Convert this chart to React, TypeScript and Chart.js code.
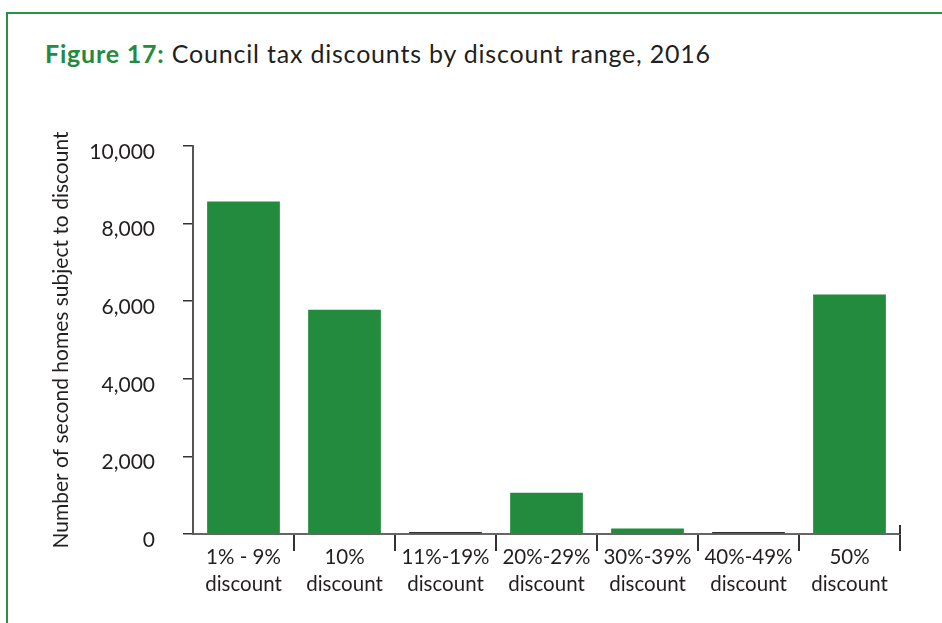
import React, { useEffect, useRef } from "react";
import { Chart, registerables } from "chart.js";

Chart.register(...registerables);

const categories: string[][] = [
  ["1% - 9%", "discount"],
  ["10%", "discount"],
  ["11%-19%", "discount"],
  ["20%-29%", "discount"],
  ["30%-39%", "discount"],
  ["40%-49%", "discount"],
  ["50%", "discount"],
];
const homes: number[] = [8570, 5780, 0, 1060, 140, 0, 6170];
const yMin = 0;
const yMax = 10000;
const yStep = 2000;

const GREEN = "#238b3e";
const TEXT = "#231f20";
const FONT = "Lato";

const rightTickPlugin = {
  id: "rightTick",
  afterDraw(chart: any) {
    const x = chart.scales.x;
    const ctx = chart.ctx;
    ctx.save();
    ctx.strokeStyle = "#333";
    ctx.lineWidth = 2;
    ctx.beginPath();
    ctx.moveTo(x.right, x.top);
    ctx.lineTo(x.right, x.top - 9);
    ctx.stroke();
    ctx.restore();
  },
};

export default function App() {
  const ref = useRef<HTMLCanvasElement | null>(null);

  useEffect(() => {
    document.body.style.margin = "0";
    document.body.style.overflow = "hidden";
    if (!ref.current) return;
    const chart = new Chart(ref.current, {
      type: "bar",
      data: {
        labels: categories,
        datasets: [
          {
            data: homes,
            backgroundColor: (c: any) => (c.raw === 0 ? "#333333" : GREEN),
            minBarLength: 2,
            barPercentage: 0.72,
            categoryPercentage: 1,
          },
        ],
      },
      options: {
        responsive: false,
        animation: false,
        maintainAspectRatio: false,
        layout: { padding: { top: 146, right: 42, left: 0, bottom: 0 } },
        plugins: {
          legend: { display: false },
          tooltip: { enabled: false },
          title: { display: false },
        },
        scales: {
          x: {
            afterFit: (s: any) => {
              s.height = 89;
            },
            grid: {
              display: true,
              offset: true,
              drawOnChartArea: false,
              drawTicks: true,
              tickLength: 17,
              lineWidth: 2,
              color: (c: any) =>
                c.index === 0 || c.index >= categories.length ? "rgba(0,0,0,0)" : "#333333",
            },
            border: { display: true, color: "#666666", width: 2 },
            ticks: {
              color: TEXT,
              font: { family: FONT, size: 20.5, lineHeight: 1.32 },
              padding: -7,
              maxRotation: 0,
              autoSkip: false,
            },
          },
          y: {
            min: yMin,
            max: yMax,
            afterFit: (s: any) => {
              s.width = 193;
            },
            grid: {
              display: true,
              drawOnChartArea: false,
              drawTicks: true,
              tickLength: 10,
              lineWidth: 1.5,
              color: "#333333",
            },
            border: { display: true, color: "#555555", width: 2 },
            ticks: {
              stepSize: yStep,
              color: TEXT,
              font: { family: FONT, size: 21 },
              padding: 28,
              labelOffset: 6,
              callback: (v: any) => Number(v).toLocaleString("en-US"),
            },
            title: {
              display: true,
              text: "Number of second homes subject to discount",
              color: TEXT,
              font: { family: FONT, size: 21 },
              padding: { top: 49, bottom: 0 },
            },
          },
        },
      },
      plugins: [rightTickPlugin],
    });
    return () => chart.destroy();
  }, []);

  return (
    <div style={{ position: "fixed", left: 0, top: 0, width: 942, height: 623, overflow: "hidden", background: "#fff" }}>
      <div
        style={{
          position: "absolute",
          left: 6,
          top: 12,
          width: 1000,
          height: 1000,
          border: `2px solid #2a8f47`,
        }}
      />
      <div
        style={{
          position: "absolute",
          left: 45,
          top: 41,
          fontFamily: FONT,
          fontSize: 25,
          lineHeight: "25px",
          letterSpacing: "0.8px",
          color: TEXT,
          whiteSpace: "nowrap",
        }}
      >
        <span style={{ color: GREEN, fontWeight: "bold" }}>Figure 17:</span> Council tax discounts by discount range, 2016
      </div>
      <canvas
        ref={ref}
        width={942}
        height={623}
        style={{ position: "absolute", left: 0, top: 0, width: 942, height: 623 }}
      />
    </div>
  );
}
